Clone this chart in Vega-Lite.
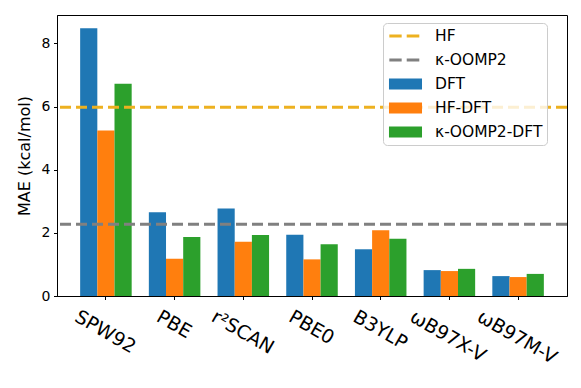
{
  "$schema": "https://vega.github.io/schema/vega-lite/v6.json",
  "width": 510,
  "height": 281,
  "autosize": "none",
  "padding": {"left": 57, "top": 15, "right": 14, "bottom": 92},
  "background": "white",
  "config": {
    "font": "DejaVu Sans",
    "view": {"stroke": "black", "strokeWidth": 1},
    "axis": {"domainColor": "black", "tickColor": "black", "labelColor": "black", "titleColor": "black", "grid": false, "domainWidth": 1, "tickWidth": 1}
  },
  "datasets": {
    "bars": [
      {"method": "SPW92", "series": "DFT", "mae": 8.48},
      {"method": "SPW92", "series": "HF-DFT", "mae": 5.24},
      {"method": "SPW92", "series": "κ-OOMP2-DFT", "mae": 6.72},
      {"method": "PBE", "series": "DFT", "mae": 2.65},
      {"method": "PBE", "series": "HF-DFT", "mae": 1.18},
      {"method": "PBE", "series": "κ-OOMP2-DFT", "mae": 1.87},
      {"method": "r²SCAN", "series": "DFT", "mae": 2.77},
      {"method": "r²SCAN", "series": "HF-DFT", "mae": 1.72},
      {"method": "r²SCAN", "series": "κ-OOMP2-DFT", "mae": 1.93},
      {"method": "PBE0", "series": "DFT", "mae": 1.94},
      {"method": "PBE0", "series": "HF-DFT", "mae": 1.16},
      {"method": "PBE0", "series": "κ-OOMP2-DFT", "mae": 1.64},
      {"method": "B3YLP", "series": "DFT", "mae": 1.48},
      {"method": "B3YLP", "series": "HF-DFT", "mae": 2.08},
      {"method": "B3YLP", "series": "κ-OOMP2-DFT", "mae": 1.81},
      {"method": "ωB97X-V", "series": "DFT", "mae": 0.82},
      {"method": "ωB97X-V", "series": "HF-DFT", "mae": 0.79},
      {"method": "ωB97X-V", "series": "κ-OOMP2-DFT", "mae": 0.86},
      {"method": "ωB97M-V", "series": "DFT", "mae": 0.63},
      {"method": "ωB97M-V", "series": "HF-DFT", "mae": 0.6},
      {"method": "ωB97M-V", "series": "κ-OOMP2-DFT", "mae": 0.7}
    ],
    "refs": [
      {"series": "HF", "mae": 5.98},
      {"series": "κ-OOMP2", "mae": 2.27}
    ]
  },
  "layer": [
    {
      "data": {"name": "bars"},
      "mark": {"type": "bar"},
      "encoding": {
        "x": {
          "field": "method", "type": "nominal",
          "sort": ["SPW92", "PBE", "r²SCAN", "PBE0", "B3YLP", "ωB97X-V", "ωB97M-V"],
          "scale": {"paddingInner": 0.25, "paddingOuter": 0.337},
          "axis": {
            "title": null, "labelFontSize": 19, "labelAngle": 30, "labelAlign": "left", "labelBaseline": "top",
            "tickSize": 3.5, "labelPadding": 7.5,
            "labelOffset": {"expr": "4 - 0.433 * ({'SPW92': 66.5, 'PBE': 36.5, 'r²SCAN': 68, 'PBE0': 48.6, 'B3YLP': 58.8, 'ωB97X-V': 86, 'ωB97M-V': 89.4})[datum.label]"}
          }
        },
        "xOffset": {"field": "series", "type": "nominal", "sort": ["DFT", "HF-DFT", "κ-OOMP2-DFT"], "scale": {"paddingInner": 0, "paddingOuter": 0}},
        "y": {
          "field": "mae", "type": "quantitative",
          "scale": {"domain": [0, 8.9], "nice": false},
          "axis": {"title": "MAE (kcal/mol)", "titleFontSize": 16, "titleFontWeight": "normal", "titlePadding": 9,
                   "values": [0, 2, 4, 6, 8], "labelFontSize": 14, "tickSize": 3.5, "labelPadding": 3.5}
        },
        "color": {
          "field": "series", "type": "nominal",
          "scale": {
            "domain": ["HF", "κ-OOMP2", "DFT", "HF-DFT", "κ-OOMP2-DFT"],
            "range": ["#EDB120", "#808080", "#1f77b4", "#ff7f0e", "#2ca02c"]
          },
          "legend": {
            "title": null,
            "orient": "none", "legendX": 326, "legendY": 8,
            "labelFontSize": 15.5, "labelColor": "black",
            "symbolSize": 324, "labelOffset": 30, "rowPadding": 6,
            "padding": 4,
            "fillColor": "rgba(255,255,255,0.8)", "strokeColor": "#cccccc", "cornerRadius": 4,
            "encode": {"symbols": {"update": {
              "shape": {"signal": "(datum.value === 'HF' || datum.value === 'κ-OOMP2') ? 'M-0.74,-0.17H0.63V0.17H-0.74Z M1.19,-0.17H2.59V0.17H1.19Z' : 'M-0.78,-0.61H2.89V0.61H-0.78Z'"},
              "fill": {"scale": "color", "field": "value"},
              "stroke": {"value": "transparent"},
              "strokeWidth": {"value": 0},
              "opacity": {"value": 1},
              "fillOpacity": {"value": 1}
            }}}
          }
        }
      }
    },
    {
      "data": {"name": "refs"},
      "mark": {"type": "rule", "strokeWidth": 3, "strokeDash": [11, 5]},
      "encoding": {
        "y": {"field": "mae", "type": "quantitative"},
        "color": {"field": "series", "type": "nominal"}
      }
    }
  ]
}
